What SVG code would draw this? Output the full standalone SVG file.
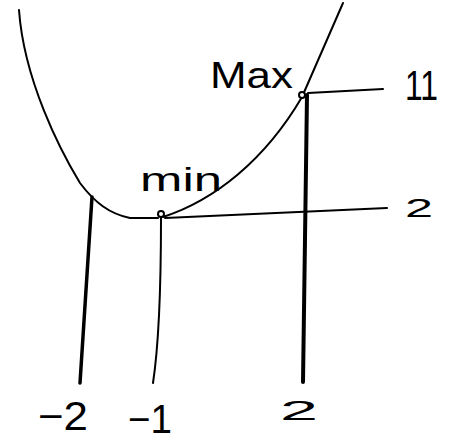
<svg xmlns="http://www.w3.org/2000/svg" width="463" height="443" viewBox="0 0 463 443">
<style>
.ink{fill:none;stroke:#000;stroke-linecap:round;stroke-linejoin:round}
.lbl{font-family:"Liberation Sans",Arial,sans-serif;fill:#000}
</style>
<rect width="463" height="443" fill="#fff"/>
<g id="curve">
<path class="ink" stroke-width="2" d="M19,10 C24,80 60,150 80,183 C95,203 110,214 130,218 L158,218"/>
<path class="ink" stroke-width="2" d="M163,217 C215,200 265,160 302,97 L343,3"/>
</g>
<g id="connectors">
<path class="ink" stroke-width="2" d="M308,93 L383,89"/>
<path class="ink" stroke-width="2" d="M165,218 L387,208"/>
<path class="ink" stroke-width="3.5" d="M92,197 L80,383"/>
<path class="ink" stroke-width="2" d="M161,218 C161,300 158,350 153,383"/>
<path class="ink" stroke-width="4" d="M307,95 L303,382"/>
</g>
<g id="max-point">
<circle cx="302" cy="95" r="3" fill="#fff" stroke="#000" stroke-width="2"/>
<text class="lbl" x="210" y="88" font-size="36" textLength="83" lengthAdjust="spacingAndGlyphs">Max</text>
</g>
<g id="min-point">
<circle cx="161" cy="214" r="3" fill="#fff" stroke="#000" stroke-width="2"/>
<text class="lbl" x="140" y="191" font-size="34" textLength="82" lengthAdjust="spacingAndGlyphs">min</text>
</g>
<g id="y-labels">
<text class="lbl" x="405" y="100" font-size="42" textLength="33" lengthAdjust="spacingAndGlyphs">11</text>
<text class="lbl" x="405" y="217" font-size="26" textLength="28" lengthAdjust="spacingAndGlyphs">2</text>
</g>
<g id="x-labels">
<text class="lbl" x="38" y="430" font-size="40" textLength="50" lengthAdjust="spacingAndGlyphs">−2</text>
<text class="lbl" x="128" y="433" font-size="40" textLength="44" lengthAdjust="spacingAndGlyphs">−1</text>
<text class="lbl" x="280" y="420" font-size="28" textLength="38" lengthAdjust="spacingAndGlyphs">2</text>
</g>
</svg>
